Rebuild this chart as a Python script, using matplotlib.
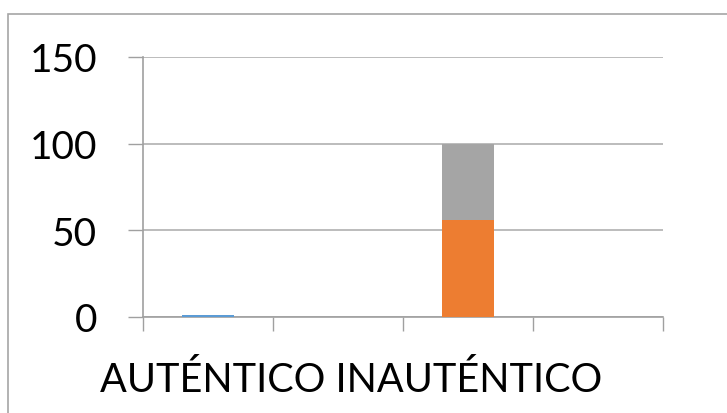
import matplotlib
matplotlib.use("Agg")
import matplotlib.pyplot as plt
from matplotlib.patches import Rectangle
import numpy as np

categories = ["", "", "", ""]
series_blue = [1, 0, 0, 0]
series_orange = [0, 0, 56, 0]
series_gray = [0, 0, 44, 0]
yticks = [0, 50, 100, 150]
xlabel_text = "AUTÉNTICO INAUTÉNTICO"

plt.rcParams['font.family'] = ['Lato', 'DejaVu Sans']

W, H = 727, 414
fig = plt.figure(figsize=(W/100, H/100), dpi=100)
fig.patch.set_facecolor('white')

# outer border of chart area
fig.patches.append(Rectangle((8/W, -0.1), 1.2, 1 - 15/H + 0.1, transform=fig.transFigure,
                             fill=False, edgecolor='#a6a6a6', linewidth=1.2, zorder=0))

ax = fig.add_axes([143/W, 1 - 318/H, (663-143)/W, (318-58)/H])
x = np.arange(len(categories))
w = 0.4
ax.bar(x, series_blue, width=w, color='#5b9bd5', zorder=3)
ax.bar(x, series_orange, width=w, bottom=series_blue, color='#ed7d31', zorder=3)
bottom2 = [a + b for a, b in zip(series_blue, series_orange)]
ax.bar(x, series_gray, width=w, bottom=bottom2, color='#a5a5a5', zorder=3)

ax.set_xlim(-0.5, len(categories) - 0.5)
ax.set_ylim(0, 150)
ax.set_yticks(yticks)
ax.set_yticklabels([str(v) for v in yticks], fontsize=28)
ax.set_xticks(np.arange(len(categories) + 1) - 0.5)
ax.set_xticklabels([])
ax.tick_params(axis='y', length=11, width=1, color='#a0a0a0', pad=22)
ax.tick_params(axis='x', length=10, width=1, color='#a0a0a0')
ax.grid(axis='y', color='#b0b0b0', linewidth=1.2, zorder=0)
ax.set_axisbelow(True)
for s in ['top', 'right']:
    ax.spines[s].set_visible(False)
ax.spines['left'].set_color('#a0a0a0')
ax.spines['bottom'].set_color('#a0a0a0')
ax.spines['left'].set_linewidth(1.2)
ax.spines['bottom'].set_linewidth(1.2)

fig.text(351/W, 1 - 380/H, xlabel_text, fontsize=28.5, ha='center', va='center', color='black')

fig.savefig('out.png', dpi=100)
